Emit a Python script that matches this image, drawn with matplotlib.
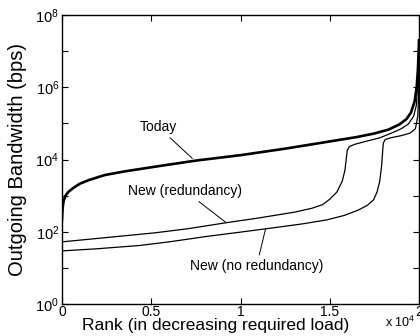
import numpy as np
import matplotlib
matplotlib.use("Agg")
import matplotlib.pyplot as plt
from matplotlib.ticker import NullLocator

plt.rcParams['font.family'] = ['Liberation Sans', 'DejaVu Sans']

# rank (thousands) and log10 of outgoing bandwidth (bps)
today_rank = [0, 0.02, 0.05, 0.1, 0.2, 0.35, 0.6, 1.0, 1.5, 2.4, 3.5, 5.2, 7.5, 10, 12.5, 15,
              16.5, 17.5, 18.3, 18.9, 19.3, 19.55, 19.75, 19.87, 19.94, 19.98, 20]
today_log = [2.33, 2.55, 2.72, 2.87, 3.0, 3.1, 3.2, 3.33, 3.43, 3.57, 3.67, 3.8, 3.97, 4.12, 4.3, 4.5,
             4.62, 4.72, 4.83, 4.97, 5.12, 5.3, 5.6, 6.0, 6.5, 7.0, 7.3]

red_rank = [0, 2.5, 5.2, 7, 9.2, 11, 13, 14, 14.6, 15.0, 15.4, 15.7, 15.85, 15.92, 15.98, 16.1,
            16.4, 17, 17.8, 18.5, 19.0, 19.4, 19.7, 19.85, 19.95, 20]
red_log = [1.72, 1.84, 1.97, 2.08, 2.25, 2.38, 2.54, 2.65, 2.75, 2.9, 3.1, 3.4, 3.7, 4.0, 4.25, 4.36,
           4.42, 4.5, 4.6, 4.74, 4.85, 4.98, 5.2, 5.5, 6.2, 7.1]

nored_rank = [0, 2, 4.35, 6, 8.1, 10, 12, 13.5, 14.85, 15.8, 16.6, 17.1, 17.45, 17.65, 17.8, 17.9,
              17.96, 18.0, 18.1, 18.4, 19, 19.5, 19.8, 19.93, 19.98, 20]
nored_log = [1.47, 1.53, 1.62, 1.72, 1.87, 1.99, 2.12, 2.22, 2.33, 2.45, 2.6, 2.73, 2.88, 3.1, 3.4, 3.8,
             4.2, 4.45, 4.55, 4.6, 4.66, 4.73, 4.85, 5.2, 5.8, 7.0]

x_ticks = [0, 0.5, 1, 1.5, 2]
y_exps = [0, 1, 2, 3, 4, 5, 6, 7, 8]


def series(rank, logs):
    return np.array(rank) * 1000, 10.0 ** np.array(logs)


fig = plt.figure(figsize=(4.2, 3.36), dpi=100)
ax = fig.add_axes([62 / 420, 32 / 336, 357 / 420, 289 / 336])

ax.plot(*series(today_rank, today_log), color='black', lw=1.9)
ax.plot(*series(red_rank, red_log), color='black', lw=0.9)
ax.plot(*series(nored_rank, nored_log), color='black', lw=0.9)

ax.set_yscale('log')
ax.set_xlim(0, 20000)
ax.set_ylim(1, 1e8)
ax.set_yticks([10.0 ** e for e in y_exps])
ax.set_yticklabels([r'$\mathregular{10^{%d}}$' % e if e % 2 == 0 else '' for e in y_exps])
ax.yaxis.set_minor_locator(NullLocator())
ax.set_xticks([v * 1e4 for v in x_ticks])
ax.set_xticklabels(['%g' % v for v in x_ticks])
ax.tick_params(direction='in', length=4, width=0.8, labelsize=10.5, top=True, right=True)
ax.tick_params(axis='x', labelsize=10, pad=0.5)
ax.tick_params(axis='y', pad=2)
for s in ax.spines.values():
    s.set_linewidth(1.0)

ax.set_xlabel('Rank (in decreasing required load)', fontsize=12.5)
ax.xaxis.set_label_coords(0.43, -0.047)
ax.set_ylabel('Outgoing Bandwidth (bps)', fontsize=14.5)
ax.yaxis.set_label_coords(-0.098, 0.5)
fig.text(400 / 420, 1 - 322 / 336, r'x $\mathregular{10^{4}}$', fontsize=9, ha='center', va='center')

line = dict(arrowstyle='-', color='black', lw=0.7, shrinkA=1, shrinkB=0)
ax.annotate('Today', xy=(7300, 10 ** 4.03), xytext=(5400, 10 ** 4.9),
            ha='center', va='center', fontsize=10, arrowprops=line)
ax.annotate('New (redundancy)', xy=(9200, 10 ** 2.25), xytext=(6900, 10 ** 3.13),
            ha='center', va='center', fontsize=10, arrowprops=line)
ax.annotate('New (no redundancy)', xy=(11400, 10 ** 2.07), xytext=(10900, 10 ** 1.05),
            ha='center', va='center', fontsize=10, arrowprops=line)

fig.savefig('out.png', dpi=100)
